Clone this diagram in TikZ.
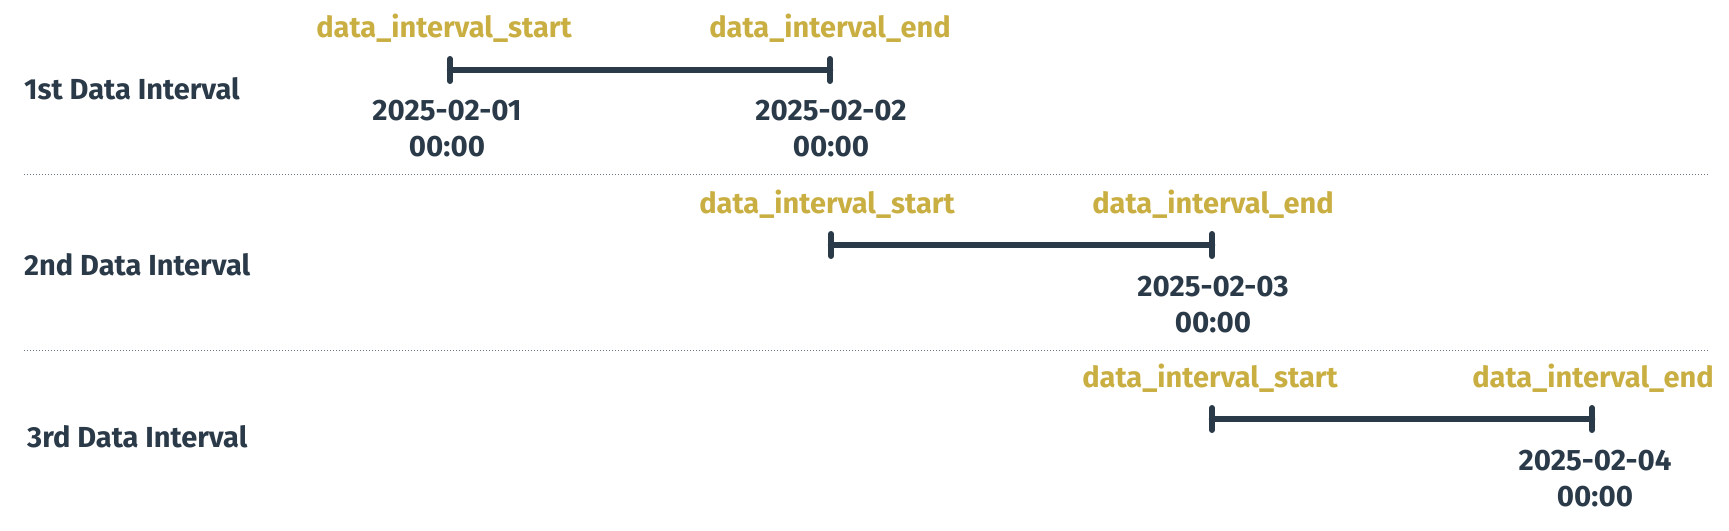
\documentclass[tikz,border=0pt]{standalone}
\usepackage{fontspec}
\setmainfont{Fira Sans}
\definecolor{slate}{HTML}{2B3A48}
\definecolor{gold}{HTML}{C9AE42}
\begin{document}
\begin{tikzpicture}[x=1pt,y=-1pt,
  rowlabel/.style={anchor=west,inner sep=0pt,text=slate,font=\fontsize{29}{34}\selectfont\bfseries},
  goldlabel/.style={inner sep=0pt,text=gold,font=\fontsize{29}{34}\selectfont\bfseries},
  datelabel/.style={inner sep=0pt,text=slate,align=center,font=\fontsize{29.5}{36}\selectfont\bfseries},
  bar/.style={draw=slate,line width=6.5pt,line cap=round},
  tick/.style={draw=slate,line width=6pt,line cap=round},
  sep/.style={draw=slate!70,dotted,line width=1pt}]
\useasboundingbox (0,0) rectangle (1729,530);
% row 1
\node[rowlabel] (r1) at (24,89) {1st Data Interval};
\node[goldlabel] (s1) at (444,28) {data\_interval\_start};
\node[goldlabel] (e1) at (830,28) {data\_interval\_end};
\coordinate (a1) at (450,70);
\coordinate (b1) at (830,70);
\draw[bar] (a1) -- (b1);
\draw[tick] ([yshift=-11pt]a1) -- ([yshift=11pt]a1);
\draw[tick] ([yshift=-11pt]b1) -- ([yshift=11pt]b1);
\node[datelabel] (d1a) at (447,129) {2025-02-01\\00:00};
\node[datelabel] (d1b) at (831,129) {2025-02-02\\00:00};
\coordinate (l1a) at (24,174);
\coordinate (l1b) at (1709,174);
\draw[sep] (l1a) -- (l1b);
% row 2
\node[rowlabel] (r2) at (24,265) {2nd Data Interval};
\node[goldlabel] (s2) at (827,204) {data\_interval\_start};
\node[goldlabel] (e2) at (1213,204) {data\_interval\_end};
\coordinate (a2) at (831,245);
\coordinate (b2) at (1212,245);
\draw[bar] (a2) -- (b2);
\draw[tick] ([yshift=-11pt]a2) -- ([yshift=11pt]a2);
\draw[tick] ([yshift=-11pt]b2) -- ([yshift=11pt]b2);
\node[datelabel] (d2) at (1213,305) {2025-02-03\\00:00};
\coordinate (l2a) at (24,350);
\coordinate (l2b) at (1709,350);
\draw[sep] (l2a) -- (l2b);
% row 3
\node[rowlabel] (r3) at (27,437) {3rd Data Interval};
\node[goldlabel] (s3) at (1210,378) {data\_interval\_start};
\node[goldlabel] (e3) at (1593,378) {data\_interval\_end};
\coordinate (a3) at (1212,419);
\coordinate (b3) at (1592,419);
\draw[bar] (a3) -- (b3);
\draw[tick] ([yshift=-11pt]a3) -- ([yshift=11pt]a3);
\draw[tick] ([yshift=-11pt]b3) -- ([yshift=11pt]b3);
\node[datelabel] (d3) at (1595,479) {2025-02-04\\00:00};
\end{tikzpicture}
\end{document}
